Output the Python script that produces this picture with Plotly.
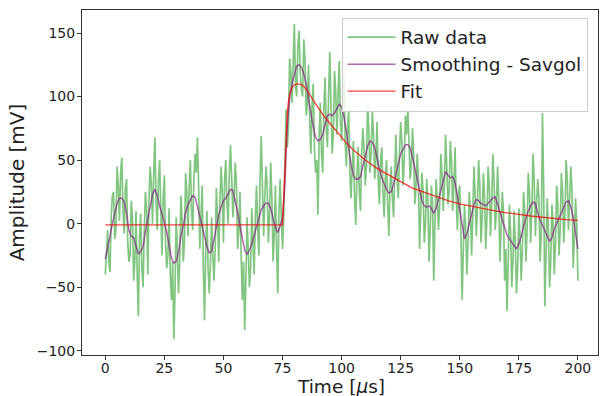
import plotly.graph_objects as go

time_us = list(range(0, 201))
time_mid_us = [t + 0.5 for t in range(0, 200)]

raw_mv = [
    -40, -5, -38, 22, -12, 45, 2, 52, -8, 35,
    -30, 18, -45, 10, -73, 8, -50, 25, -40, 45,
    0, 68, -5, 50, -25, 38, -35, 12, -60, -91,
    5, -55, 22, -30, 40, -10, 50, -5, 55, 68,
    -20, 30, -76, 10, -55, 5, -45, 28, -30, 45,
    -15, 50, 0, 62, 5, 48, -20, 25, -60, -84,
    5, -50, 12, -40, 30, -25, 69, -10, 45, -15,
    48, -30, 30, -55, 35, -20, 55, 60, 130, 95,
    157, 100, 152, 105, 145, 85, 125, 55, 110, 40,
    7, 95, 40, 115, 60, 135, 55, 120, 70, 128,
    65, 118, 45, 90, 20, 65, -1, 60, 10, 75,
    30, 95, 40, 88, 35, 80, 15, 60, 5, 50,
    -10, 45, 5, 70, 20, 80, 30, 85, 90, 35,
    75, 15, 55, -20, 40, -15, 35, -30, 30, -45,
    35, -5, 55, 10, 70, 15, 65, 10, 60, -5,
    30, -60, 15, -40, 25, -25, 45, -10, 50, -15,
    40, -20, 45, -10, 55, -5, 45, -30, 25, -45,
    -69, 15, -50, 10, -55, 12, -45, 25, -30, 40,
    -15, 55, -10, 35, -30, 87, -65, 20, -50, 15,
    -40, 30, -25, 40, -15, 50, -5, 45, -35, 20,
    -45,
]

raw_mid_mv = [
    -15, -30, 5, 25, -5, 30, 40, 10, 28, -15,
    -25, 5, -30, -40, -10, -35, -5, 10, 20, 30,
    40, 15, 35, 10, 20, -15, -25, -40, -30, -55,
    -20, -30, 5, -15, 25, 30, 10, 35, 40, 30,
    5, -35, -20, -35, -30, -25, -20, 5, 15, 25,
    35, 15, 40, 35, 20, 30, -5, -25, -30, -45,
    -20, -35, -15, 5, -5, 35, 30, 20, 30, 5,
    20, -10, -20, 10, 5, 5, 90, 75, 120, 135,
    110, 140, 120, 100, 130, 95, 80, 95, 60, 50,
    70, 55, 90, 75, 100, 95, 70, 105, 100, 80,
    95, 65, 75, 40, 45, 20, 40, 25, 55, 60,
    45, 75, 55, 70, 50, 35, 50, 25, 35, 15,
    30, 20, 40, 35, 55, 65, 50, 70, 65, 45,
    55, 30, 35, 10, 25, 0, 20, -5, 15, 0,
    20, 15, 40, 30, 45, 25, 50, 30, 20, 25,
    -10, -20, -5, -15, 10, 5, 25, 15, 30, 5,
    20, 5, 30, 15, 35, 10, 20, -5, 10, -20,
    -30, -5, -30, -15, -35, -10, -20, 10, -5, 25,
    10, 35, 15, 20, -10, 30, -25, -5, -30, 0,
    -15, 15, -5, 25, 5, 35, 20, 25, -10, 0,
]

smooth_mv = [
    -28, -20, -10, 0, 9, 16, 20, 20, 17, 8,
    -5, -10, -11, -17, -24, -22, -18, -6, 4, 14,
    23, 27, 22, 14, 8, 1, -7, -17, -27, -31,
    -30, -22, -10, -2, 9, 15, 18, 22, 21, 14,
    6, -2, -10, -18, -23, -22, -12, -2, 7, 13,
    18, 20, 24, 27, 26, 18, 9, -2, -13, -21,
    -24, -21, -16, -9, -3, 5, 11, 14, 16, 16,
    12, 4, -3, -7, -2, 5, 30, 77, 98, 110,
    117, 124, 125, 123, 118, 110, 98, 86, 76, 68,
    65, 66, 70, 78, 85, 86, 85, 87, 91, 94,
    92, 84, 73, 58, 46, 38, 35, 35, 37, 45,
    54, 61, 65, 64, 60, 51, 43, 36, 31, 27,
    24, 25, 31, 38, 47, 55, 59, 62, 62, 60,
    52, 44, 35, 26, 18, 14, 13, 14, 12, 8,
    12, 19, 26, 35, 41, 38, 36, 37, 32, 22,
    10, -2, -12, -8, -1, 8, 15, 19, 18, 16,
    15, 14, 16, 18, 20, 21, 15, 9, 3, -4,
    -9, -12, -15, -18, -20, -16, -10, -2, 4, 10,
    14, 17, 16, 8, 3, -1, -5, -10, -14, -11,
    -4, 0, 4, 8, 13, 17, 18, 13, 5, -8,
    -20,
]

fit_time_us = [0, 75, 75.5, 76, 76.5, 77, 77.5, 78, 79, 80, 81, 82, 83, 84, 86, 88,
               90, 92, 95, 98, 100, 102, 105, 110, 115, 120, 125, 130, 135, 140,
               145, 150, 155, 160, 165, 170, 175, 180, 185, 190, 195, 200]
fit_mv = [-1, -1, 20, 45, 68, 86, 96, 102, 107, 109, 110, 110, 109.5, 108, 103, 97,
          91, 86, 79, 72, 67.5, 63.5, 58, 50, 43.5, 38, 33, 28, 24.5, 21,
          18, 15.5, 13.5, 11.5, 10, 8.5, 7, 6, 5, 4, 3.2, 2.6]

x_ticks = [0, 25, 50, 75, 100, 125, 150, 175, 200]
y_ticks = [-100, -50, 0, 50, 100, 150]

# interleave integer-time and half-time raw samples
raw_t, raw_v = [], []
for i, t in enumerate(time_us):
    raw_t.append(t)
    raw_v.append(raw_mv[i])
    if i < len(time_mid_us):
        raw_t.append(time_mid_us[i])
        raw_v.append(raw_mid_mv[i])

fig = go.Figure()
fig.add_trace(go.Scatter(x=raw_t, y=raw_v, mode="lines", name="Raw data",
                         line=dict(color="rgba(44,160,44,0.6)", width=1.7)))
fig.add_trace(go.Scatter(x=time_us, y=smooth_mv, mode="lines", name="Smoothing - Savgol",
                         line=dict(color="rgba(128,0,128,0.6)", width=1.5)))
fig.add_trace(go.Scatter(x=fit_time_us, y=fit_mv, mode="lines", name="Fit",
                         line=dict(color="rgba(255,0,0,0.75)", width=1.3)))

axis_common = dict(showgrid=False, zeroline=False, showline=True, linecolor="#333333",
                   linewidth=1, mirror=True, ticks="outside", ticklen=4, tickcolor="#333333",
                   automargin=False,
                   tickfont=dict(family="DejaVu Sans", size=14, color="#222222"))

fig.update_layout(
    width=600, height=396,
    margin=dict(l=82, r=2, t=10, b=41),
    paper_bgcolor="white", plot_bgcolor="white",
    font=dict(family="DejaVu Sans", color="#222222"),
    showlegend=True,
    legend=dict(x=0.503, y=0.978, xanchor="left", yanchor="top",
                bgcolor="rgba(255,255,255,0.85)", bordercolor="#cccccc", borderwidth=1,
                font=dict(family="DejaVu Sans", size=18.5, color="#222222"),
                itemwidth=48),
    annotations=[dict(text="Time [<i>μ</i>s]", xref="paper", yref="paper",
                      x=0.502, y=-0.091, xanchor="center", yanchor="middle",
                      showarrow=False, font=dict(family="DejaVu Sans", size=18.5, color="#222222"))],
)
fig.update_xaxes(range=[-9.85, 208.5], tickvals=x_ticks, ticklabelstandoff=-4,
                 **axis_common)
fig.update_yaxes(range=[-103.4, 168.1], tickvals=y_ticks, ticklabelstandoff=-1,
                 title=dict(text="Amplitude [mV]", font=dict(size=20), standoff=6),
                 **axis_common)

fig.write_html("out.html", config={"displayModeBar": False},
               post_script="document.body.style.margin='0';")
